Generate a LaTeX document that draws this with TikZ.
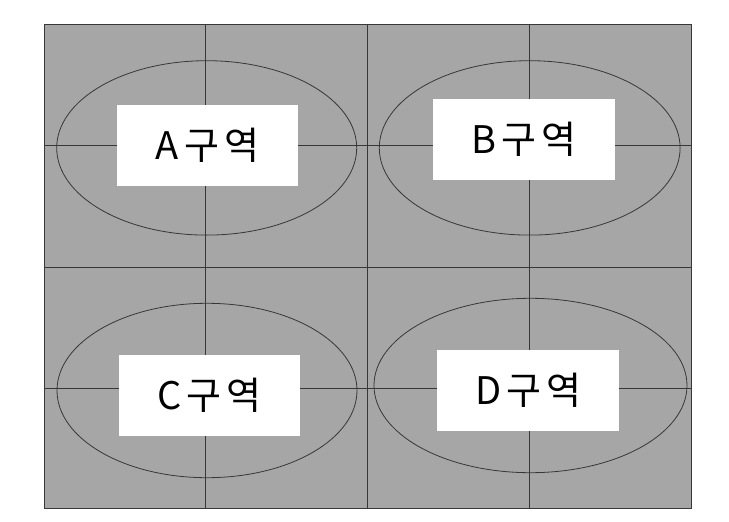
\documentclass[tikz,border=0pt]{standalone}
\usepackage{fontspec}
\newfontfamily\kr{Noto Sans CJK KR}
\definecolor{zonegray}{RGB}{166,166,166}
\definecolor{linegray}{RGB}{55,55,55}
\newcommand{\zonetext}[1]{#1\hspace{5pt}구\hspace{5pt}역}
\tikzset{
  gridline/.style={draw=linegray, line width=0.9pt},
  zoneoval/.style={draw=linegray, line width=0.8pt},
  label box/.style={fill=white, draw=none, inner sep=0pt, minimum width=181.5pt, minimum height=80.5pt, font=\kr\fontsize{38}{44}\selectfont, text=black}
}
\begin{document}
\begin{tikzpicture}[x=1pt,y=-1pt]
\useasboundingbox (0,0) rectangle (729,522);
\fill[white] (0,0) rectangle (729,522);
% background field
\fill[zonegray] (44,24.3) rectangle (691,508.3);
% grid
\foreach \gx in {205.7,367.5,529} \draw[gridline] (\gx,24.3) -- (\gx,508.3);
\foreach \gy in {145.7,267.5,388.3} \draw[gridline] (44,\gy) -- (691,\gy);
\draw[gridline] (44,24.3) rectangle (691,508.3);
% ellipses
\draw[zoneoval] (206.7,147.9) ellipse [x radius=150, y radius=87.2];
\draw[zoneoval] (529.7,147.9) ellipse [x radius=150.4, y radius=87.2];
\draw[zoneoval] (207,390.5) ellipse [x radius=150, y radius=87.2];
\draw[zoneoval] (530.5,385.5) ellipse [x radius=156.5, y radius=87.2];
% labels
\node[label box] (A) at (207.5,145.4) {\zonetext{A}};
\node[label box] (B) at (524.2,139.3) {\zonetext{B}};
\node[label box] (C) at (209.5,395.4) {\zonetext{C}};
\node[label box] (D) at (528.2,390.4) {\zonetext{D}};
\end{tikzpicture}
\end{document}
